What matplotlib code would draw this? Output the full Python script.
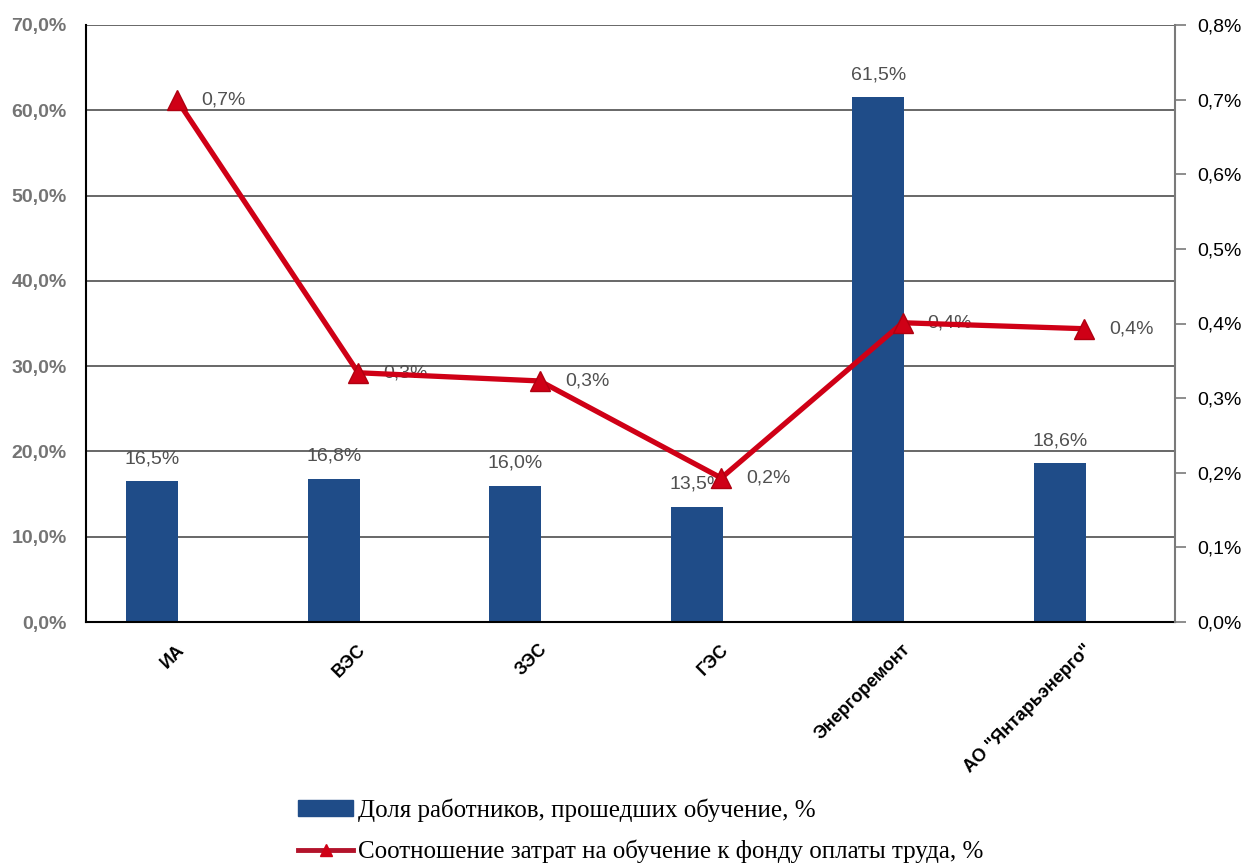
import matplotlib
matplotlib.use("Agg")
import matplotlib.pyplot as plt
import matplotlib.transforms as mtransforms
from matplotlib.patches import Patch
from matplotlib.lines import Line2D
import numpy as np

# Data
categories = ["ИА", "ВЭС", "ЗЭС", "ГЭС", "Энергоремонт", "АО \"Янтарьэнерго\""]
trained_share = [16.5, 16.8, 16.0, 13.5, 61.5, 18.6]          # %
cost_ratio = [0.70, 0.334, 0.323, 0.193, 0.401, 0.393]          # %
cost_labels = ["0,7%", "0,3%", "0,3%", "0,2%", "0,4%", "0,4%"]
left_ticks = [0, 10, 20, 30, 40, 50, 60, 70]
right_ticks = [0.0, 0.1, 0.2, 0.3, 0.4, 0.5, 0.6, 0.7, 0.8]
legend_labels = ["Доля работников, прошедших обучение, %",
                 "Соотношение затрат на обучение к фонду оплаты труда, %"]

BAR_COLOR = "#1F4C88"
LINE_COLOR = "#CF0016"
GRID_COLOR = "#5c5c5c"

plt.rcParams["font.family"] = ["Liberation Sans", "DejaVu Sans"]

fig = plt.figure(figsize=(12.46, 8.68), dpi=100)
ax = fig.add_axes([86 / 1246, 1 - 622 / 868, (1175 - 86) / 1246, (622 - 25) / 868])

x = np.arange(len(categories))
bar_x = x - 0.135
bars = ax.bar(bar_x, trained_share, width=0.287, color=BAR_COLOR, zorder=2)

ax.set_xlim(-0.5, len(categories) - 0.5)
ax.set_ylim(0, 70)
ax.set_yticks(left_ticks)
ax.set_yticklabels([f"{v:.1f}".replace(".", ",") + "%" for v in left_ticks],
                   color="#747474", fontsize=14, fontweight="bold")
ax.tick_params(axis="y", length=0, pad=14)
ax.yaxis.grid(True, color=GRID_COLOR, linewidth=1.3, zorder=0)
ax.set_axisbelow(True)

for s in ["top", "right"]:
    ax.spines[s].set_visible(False)
ax.spines["left"].set_color("black")
ax.spines["left"].set_linewidth(1.5)
ax.spines["bottom"].set_color("black")
ax.spines["bottom"].set_linewidth(1.5)

# Category labels, rotated
ax.set_xticks(x)
ax.set_xticklabels(categories, rotation=45, ha="right", va="center",
                   rotation_mode="anchor", fontsize=13, fontweight="bold")
ax.tick_params(axis="x", length=0, pad=18)
offset = mtransforms.ScaledTranslation(5 / 100, 0, fig.dpi_scale_trans)
for lbl in ax.get_xticklabels():
    lbl.set_transform(lbl.get_transform() + offset)

# Bar value labels
for bx, v in zip(bar_x, trained_share):
    ax.annotate(f"{v:.1f}".replace(".", ",") + "%", (bx, v),
                xytext=(0, 10), textcoords="offset points",
                ha="center", va="bottom", fontsize=14, color="#505050", zorder=1)

# Secondary axis with the cost ratio line
ax2 = ax.twinx()
ax2.set_ylim(0, 0.8)
ax2.set_yticks(right_ticks)
ax2.set_yticklabels([f"{v:.1f}".replace(".", ",") + "%" for v in right_ticks],
                    fontsize=14, color="black")
ax2.tick_params(axis="y", length=8, width=1.2, color="#7a7a7a", pad=8)
for s in ["top", "left", "bottom"]:
    ax2.spines[s].set_visible(False)
ax2.spines["right"].set_color("#7a7a7a")
ax2.spines["right"].set_linewidth(1.5)

for xi, v, t in zip(x, cost_ratio, cost_labels):
    ax2.annotate(t, (xi, v), xytext=(18, 0), textcoords="offset points",
                 ha="left", va="center", fontsize=14, color="#505050", zorder=1)

ax2.plot(x, cost_ratio, color=LINE_COLOR, linewidth=3.8, marker="^",
         markersize=15, markerfacecolor=LINE_COLOR, markeredgecolor="#B00010",
         zorder=5)

# Legend
handles = [
    Patch(facecolor=BAR_COLOR, edgecolor=BAR_COLOR),
    Line2D([0], [0], color="#B3132B", linewidth=3.5, marker="^",
           markersize=9, markerfacecolor=LINE_COLOR, markeredgecolor=LINE_COLOR),
]
fig.legend(handles, legend_labels, loc="upper left",
           bbox_to_anchor=(298 / 1246, 1 - 798 / 868),
           frameon=False, borderpad=0, borderaxespad=0,
           handlelength=2.2, handleheight=0.6, handletextpad=0.2,
           labelspacing=0.72,
           prop={"family": "Liberation Serif", "size": 18})

fig.savefig("out.png", dpi=100)
